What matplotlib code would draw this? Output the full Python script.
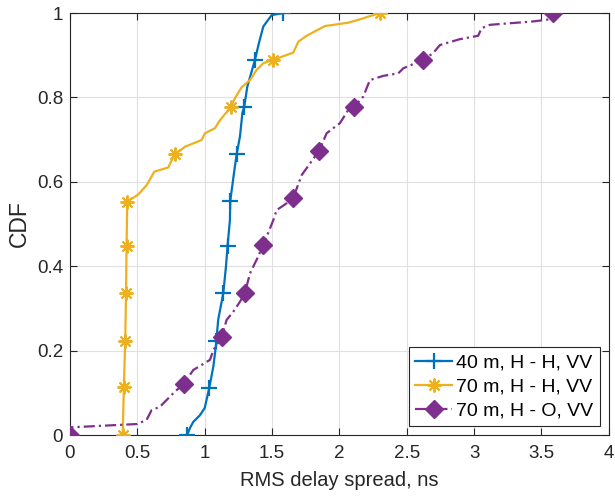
import matplotlib
matplotlib.use("Agg")
import matplotlib.pyplot as plt
from matplotlib.lines import Line2D

plt.rcParams['font.family'] = ['Liberation Sans', 'DejaVu Sans']

# 40 m, H - H, VV
blue_x = [0.87, 0.89, 0.915, 0.965, 1.0, 1.034, 1.064, 1.083, 1.10, 1.138, 1.158, 1.17, 1.187, 1.19,
          1.217, 1.237, 1.262, 1.28, 1.293, 1.316, 1.373, 1.405, 1.435, 1.497, 1.583]
blue_y = [0.0, 0.016, 0.031, 0.047, 0.064, 0.112, 0.162, 0.21, 0.273, 0.336, 0.40, 0.449, 0.509, 0.555,
          0.62, 0.665, 0.708, 0.764, 0.777, 0.825, 0.889, 0.932, 0.968, 0.995, 1.0]
blue_mx = [0.87, 1.034, 1.083, 1.138, 1.17, 1.19, 1.237, 1.293, 1.373, 1.583]
blue_my = [0.0, 0.112, 0.222, 0.336, 0.449, 0.555, 0.665, 0.777, 0.889, 1.0]

# 70 m, H - H, VV
yel_x = [0.391, 0.40, 0.41, 0.416, 0.42, 0.425, 0.507, 0.569, 0.626, 0.73, 0.755, 0.779, 0.853, 0.977,
         1.002, 1.076, 1.113, 1.155, 1.195, 1.224, 1.274, 1.336, 1.385, 1.435, 1.507, 1.657, 1.695,
         1.756, 1.892, 2.065, 2.152, 2.30]
yel_y = [0.0, 0.113, 0.223, 0.336, 0.448, 0.553, 0.570, 0.592, 0.624, 0.634, 0.651, 0.665, 0.683, 0.699,
         0.715, 0.727, 0.746, 0.762, 0.778, 0.798, 0.824, 0.841, 0.865, 0.881, 0.889, 0.906, 0.932,
         0.946, 0.969, 0.977, 0.985, 1.0]
yel_mx = [0.391, 0.40, 0.41, 0.416, 0.42, 0.425, 0.779, 1.195, 1.507, 2.30]
yel_my = [0.0, 0.113, 0.223, 0.336, 0.448, 0.553, 0.665, 0.778, 0.889, 1.0]

# 70 m, H - O, VV
pur_x = [0.0, 0.0, 0.371, 0.5, 0.569, 0.606, 0.668, 0.767, 0.846, 0.915, 1.039, 1.064, 1.126, 1.163,
         1.212, 1.262, 1.299, 1.336, 1.385, 1.435, 1.509, 1.534, 1.608, 1.657, 1.72, 1.85, 1.905, 2.004,
         2.065, 2.11, 2.177, 2.226, 2.325, 2.437, 2.474, 2.622, 2.696, 2.746, 2.894, 3.03, 3.055, 3.117,
         3.438, 3.562, 3.587]
pur_y = [0.0, 0.018, 0.024, 0.026, 0.036, 0.059, 0.067, 0.099, 0.122, 0.154, 0.178, 0.201, 0.233, 0.273,
         0.292, 0.316, 0.337, 0.383, 0.415, 0.45, 0.509, 0.533, 0.549, 0.562, 0.616, 0.674, 0.715, 0.739,
         0.770, 0.778, 0.802, 0.841, 0.851, 0.857, 0.869, 0.889, 0.905, 0.924, 0.938, 0.946, 0.964, 0.972,
         0.980, 0.985, 1.0]
pur_mx = [0.0, 0.846, 1.126, 1.299, 1.435, 1.657, 1.85, 2.11, 2.622, 3.587]
pur_my = [0.0, 0.122, 0.233, 0.337, 0.45, 0.562, 0.674, 0.778, 0.889, 1.0]

labels = ['40 m, H - H, VV', '70 m, H - H, VV', '70 m, H - O, VV']
xticks = [0, 0.5, 1, 1.5, 2, 2.5, 3, 3.5, 4]
xticklabels = ['0', '0.5', '1', '1.5', '2', '2.5', '3', '3.5', '4']
yticks = [0, 0.2, 0.4, 0.6, 0.8, 1]
yticklabels = ['0', '0.2', '0.4', '0.6', '0.8', '1']

c_blue = '#0072BD'
c_yel = '#EDB120'
c_pur = '#7E2F8E'
aster = (8, 2, 0)
pur_ls = (0, (5, 1.8, 1, 1.8))

fig = plt.figure(figsize=(6.15, 5.0), dpi=100)
ax = fig.add_axes([0.1138, 0.13, 0.8762, 0.844])

ax.plot(blue_x, blue_y, color=c_blue, lw=1.6, zorder=3)
ax.plot(blue_mx, blue_my, ls='none', marker='+', ms=11, mew=1.6, color=c_blue, zorder=4)
ax.plot(yel_x, yel_y, color=c_yel, lw=1.6, zorder=3)
ax.plot(yel_mx, yel_my, ls='none', marker=aster, ms=10, mew=1.4, color=c_yel, zorder=4)
ax.plot(pur_x, pur_y, color=c_pur, lw=1.6, ls=pur_ls, zorder=3)
ax.plot(pur_mx, pur_my, ls='none', marker='D', ms=9, color=c_pur, zorder=4)

handles = [
    Line2D([], [], color=c_blue, lw=1.6, marker='+', ms=11, mew=1.6),
    Line2D([], [], color=c_yel, lw=1.6, marker=aster, ms=10, mew=1.4),
    Line2D([], [], color=c_pur, lw=1.6, ls=pur_ls, marker='D', ms=9),
]
leg = ax.legend(handles, labels, loc='lower right', fontsize=14, frameon=True, fancybox=False,
                edgecolor='#262626', framealpha=1, borderpad=0.35, handlelength=1.9,
                handletextpad=0.2, labelspacing=0.32, borderaxespad=0.45)
leg.get_frame().set_linewidth(0.8)

ax.set_xlim(0, 4)
ax.set_ylim(0, 1)
ax.set_xticks(xticks)
ax.set_xticklabels(xticklabels)
ax.set_yticks(yticks)
ax.set_yticklabels(yticklabels)
ax.grid(True, color='#e0e0e0', lw=0.8)
ax.set_axisbelow(True)
ax.tick_params(direction='in', top=True, right=True, labelsize=13.5, colors='#262626',
               length=5, width=0.8)
ax.tick_params(axis='x', pad=7)
ax.tick_params(axis='y', pad=5)
for s in ax.spines.values():
    s.set_color('#262626')
    s.set_linewidth(0.8)
ax.set_xlabel('RMS delay spread, ns', fontsize=14.5, color='#262626', labelpad=7)
ax.set_ylabel('CDF', fontsize=16.5, color='#262626', labelpad=4)

fig.savefig('out.png', dpi=100)
